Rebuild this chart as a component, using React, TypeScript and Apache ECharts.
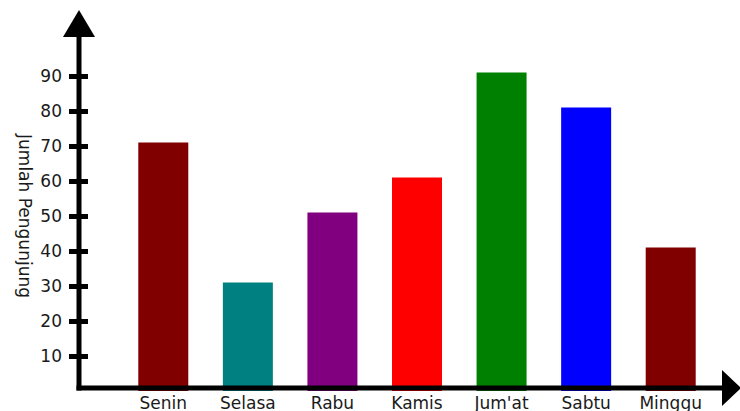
import React, { useEffect, useRef } from "react";
import * as echarts from "echarts";

const categories = ["Senin", "Selasa", "Rabu", "Kamis", "Jum'at", "Sabtu", "Minggu"];
const values = [71, 31, 51, 61, 91, 81, 41];
const barColors = ["#800000", "#008080", "#800080", "#ff0000", "#008000", "#0000ff", "#800000"];
const tickValues = [10, 20, 30, 40, 50, 60, 70, 80, 90];
const yAxisName = "Jumlah Pengunjung";

export default function App() {
  const ref = useRef<HTMLDivElement>(null);
  useEffect(() => {
    if (!ref.current) return;
    const chart = echarts.init(ref.current, undefined, { renderer: "svg" });
    const font = "DejaVu Sans";
    const common = {
      type: "value",
      min: 0,
      max: 100,
      interval: 10,
      position: "left",
      offset: 42,
      splitLine: { show: false },
      axisLine: { show: false },
    };
    chart.setOption({
      animation: false,
      backgroundColor: "#ffffff",
      grid: { left: 121, right: 27, top: 41, bottom: 20 },
      xAxis: {
        type: "category",
        data: categories,
        axisLine: { show: false },
        axisTick: { show: false },
        axisLabel: { fontFamily: font, fontSize: 17, color: "#1a1a1a", margin: 3 },
      },
      yAxis: [
        {
          ...common,
          name: yAxisName,
          nameLocation: "middle",
          nameRotate: -90,
          nameGap: 46,
          nameMoveOverlap: false,
          nameTextStyle: { fontFamily: font, fontSize: 17, color: "#1a1a1a" },
          axisTick: {
            show: true,
            length: 10,
            customValues: tickValues,
            lineStyle: { color: "#000", width: 5 },
          },
          axisLabel: {
            fontFamily: font,
            fontSize: 17,
            color: "#1a1a1a",
            margin: 17,
            customValues: tickValues,
          },
        },
        {
          ...common,
          axisLabel: { show: false },
          axisTick: {
            show: true,
            inside: true,
            length: 9,
            customValues: tickValues,
            lineStyle: { color: "#000", width: 5 },
          },
        },
      ],
      series: [
        {
          type: "bar",
          yAxisIndex: 0,
          barWidth: 50,
          data: values.map((v, i) => ({ value: v, itemStyle: { color: barColors[i] } })),
        },
      ],
      graphic: [
        { type: "line", z: 100, shape: { x1: 79, y1: 30, x2: 79, y2: 390.5 }, style: { stroke: "#000", lineWidth: 5 } },
        { type: "line", z: 100, shape: { x1: 76.5, y1: 388, x2: 726, y2: 388 }, style: { stroke: "#000", lineWidth: 5 } },
        { type: "polygon", z: 100, shape: { points: [[79, 10], [63, 37], [95, 37]] }, style: { fill: "#000" } },
        { type: "polygon", z: 100, shape: { points: [[722, 370], [741, 388], [722, 406]] }, style: { fill: "#000" } },
      ],
    });
    return () => chart.dispose();
  }, []);
  return <div ref={ref} style={{ position: "fixed", left: 0, top: 0, width: 740, height: 411 }} />;
}
